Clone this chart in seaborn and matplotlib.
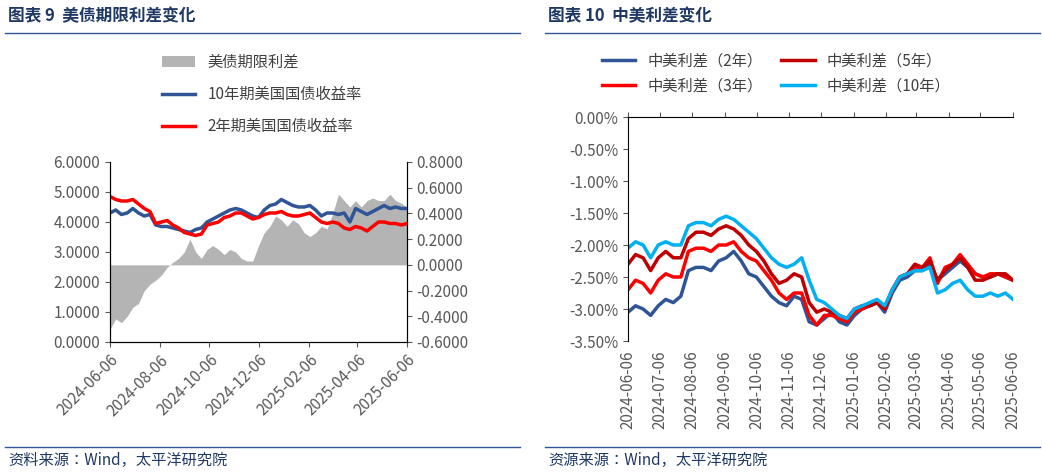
import numpy as np
import pandas as pd
import matplotlib
matplotlib.use("Agg")
import matplotlib.pyplot as plt
from matplotlib.ticker import FuncFormatter
import seaborn as sns

plt.rcParams["font.family"] = ["Noto Sans CJK SC", "Noto Sans CJK JP", "Noto Sans CJK TC",
                               "Noto Sans CJK KR", "DejaVu Sans"]
plt.rcParams["axes.unicode_minus"] = False

start, end = "2024-06-06", "2025-06-06"

# 图表9 (weekly samples)
us10y = [4.3, 4.4, 4.25, 4.3, 4.45, 4.3, 4.2, 4.25, 3.9, 3.85, 3.85, 3.8, 3.75, 3.7, 3.65, 3.75, 3.8,
         4.0, 4.1, 4.2, 4.3, 4.4, 4.45, 4.4, 4.3, 4.2, 4.15, 4.4, 4.55, 4.6, 4.75, 4.65, 4.55, 4.5,
         4.5, 4.55, 4.4, 4.2, 4.3, 4.3, 4.25, 4.3, 4.0, 4.45, 4.35, 4.25, 4.35, 4.45, 4.55, 4.45,
         4.5, 4.45, 4.45]
us2y = [4.85, 4.75, 4.7, 4.7, 4.75, 4.6, 4.45, 4.35, 3.95, 4.0, 4.05, 3.9, 3.8, 3.65, 3.6, 3.55, 3.6,
        3.9, 3.95, 4.0, 4.15, 4.2, 4.3, 4.3, 4.2, 4.1, 4.15, 4.25, 4.3, 4.3, 4.35, 4.25, 4.2, 4.2,
        4.25, 4.3, 4.15, 4.0, 3.95, 4.0, 3.95, 3.8, 3.75, 3.85, 3.8, 3.7, 3.85, 4.0, 4.0, 3.95,
        3.95, 3.9, 3.95]
spread = [-0.5, -0.42, -0.45, -0.4, -0.33, -0.3, -0.2, -0.15, -0.12, -0.08, -0.02, 0.02, 0.05, 0.1,
          0.2, 0.1, 0.05, 0.12, 0.15, 0.12, 0.08, 0.12, 0.1, 0.05, 0.03, 0.03, 0.15, 0.25, 0.3,
          0.38, 0.35, 0.3, 0.35, 0.32, 0.25, 0.22, 0.25, 0.3, 0.28, 0.4, 0.55, 0.5, 0.45, 0.5,
          0.45, 0.5, 0.52, 0.5, 0.5, 0.55, 0.5, 0.48, 0.45]

# 图表10 (%)
cn_us_2y = [-3.05, -2.95, -3.0, -3.1, -2.95, -2.85, -2.9, -2.8, -2.4, -2.35, -2.35, -2.4, -2.25, -2.2,
            -2.1, -2.25, -2.45, -2.5, -2.65, -2.8, -2.9, -2.95, -2.8, -2.85, -3.2, -3.25, -3.15,
            -3.05, -3.2, -3.25, -3.1, -3.0, -2.95, -2.9, -3.05, -2.75, -2.55, -2.5, -2.4, -2.4,
            -2.3, -2.55, -2.45, -2.35, -2.25, -2.35, -2.45, -2.5, -2.5, -2.45, -2.5, -2.55]
cn_us_3y = [-2.7, -2.55, -2.6, -2.75, -2.55, -2.45, -2.5, -2.5, -2.1, -2.05, -2.05, -2.1, -2.0, -2.0,
            -1.95, -2.1, -2.2, -2.25, -2.4, -2.55, -2.75, -2.85, -2.75, -2.75, -3.1, -3.25, -3.1,
            -3.1, -3.15, -3.2, -3.05, -3.0, -2.95, -2.9, -3.0, -2.7, -2.5, -2.45, -2.35, -2.35,
            -2.2, -2.6, -2.35, -2.3, -2.15, -2.3, -2.45, -2.5, -2.45, -2.45, -2.5, -2.55]
cn_us_5y = [-2.3, -2.15, -2.2, -2.4, -2.2, -2.1, -2.2, -2.2, -1.9, -1.8, -1.8, -1.85, -1.75, -1.7,
            -1.75, -1.85, -2.0, -2.1, -2.25, -2.45, -2.6, -2.55, -2.45, -2.5, -2.9, -3.05, -3.0,
            -3.05, -3.1, -3.15, -3.0, -2.95, -2.95, -2.9, -3.0, -2.7, -2.5, -2.45, -2.3, -2.35,
            -2.25, -2.55, -2.4, -2.3, -2.2, -2.35, -2.55, -2.55, -2.5, -2.45, -2.45, -2.55]
cn_us_10y = [-2.05, -1.95, -2.0, -2.2, -2.0, -1.95, -2.0, -2.0, -1.7, -1.65, -1.65, -1.7, -1.6, -1.55,
             -1.6, -1.7, -1.8, -1.9, -2.05, -2.2, -2.3, -2.35, -2.3, -2.2, -2.55, -2.85, -2.9,
             -3.0, -3.1, -3.15, -3.0, -2.95, -2.9, -2.85, -2.95, -2.7, -2.5, -2.45, -2.4, -2.4,
             -2.35, -2.75, -2.7, -2.6, -2.55, -2.7, -2.8, -2.8, -2.75, -2.8, -2.75, -2.85]

left_ticks = ["2024-06-06", "2024-08-06", "2024-10-06", "2024-12-06", "2025-02-06", "2025-04-06", "2025-06-06"]
right_ticks = [f"2024-{m:02d}-06" for m in range(6, 13)] + [f"2025-{m:02d}-06" for m in range(1, 7)]


def dates_for(vals):
    t = np.linspace(pd.Timestamp(start).value, pd.Timestamp(end).value, len(vals))
    return pd.to_datetime(t)


BLUE, RED, DRED, CYAN, GRAY = "#2F5597", "#FF0000", "#C00000", "#00B0F0", "#B4B4B4"
TXT = "#595959"

fig = plt.figure(figsize=(10.42, 4.75), dpi=100)

# ---- left panel
ax1 = fig.add_axes([110 / 1042, 133 / 475, 297 / 1042, 180 / 475])
ax1b = ax1.twinx()
d = dates_for(spread)
ax1b.fill_between(d, 0, spread, color=GRAY, lw=0, label="美债期限利差")
ax1b.set_ylim(-0.6, 0.8)
ax1b.set_yticks(np.arange(-0.6, 0.81, 0.2))
ax1b.yaxis.set_major_formatter(FuncFormatter(lambda v, p: f"{v:.4f}"))
sns.lineplot(x=dates_for(us10y), y=us10y, ax=ax1, color=BLUE, lw=2.5, label="10年期美国国债收益率")
sns.lineplot(x=dates_for(us2y), y=us2y, ax=ax1, color=RED, lw=2.5, label="2年期美国国债收益率")
ax1.set_zorder(ax1b.get_zorder() + 1)
ax1.patch.set_visible(False)
ax1.set_ylim(0, 6)
ax1.set_yticks(np.arange(0, 6.1, 1))
ax1.yaxis.set_major_formatter(FuncFormatter(lambda v, p: f"{v:.4f}"))
ax1.set_xlim(pd.Timestamp(start), pd.Timestamp(end))
ax1.set_xticks(pd.to_datetime(left_ticks))
ax1.set_xticklabels(left_ticks, rotation=45, ha="right", rotation_mode="anchor")
ax1.set_xlabel("")
h1, l1 = ax1b.get_legend_handles_labels()
h2, l2 = ax1.get_legend_handles_labels()
ax1.get_legend().remove()
fig.legend(h1 + h2, l1 + l2, loc="upper left", bbox_to_anchor=(148 / 1042, 1 - 40 / 475),
           frameon=False, fontsize=11, labelspacing=1.0, handlelength=2.2, labelcolor="#404040")
for a in (ax1, ax1b):
    a.spines["top"].set_visible(False)
    a.tick_params(colors=TXT, labelsize=11, direction="out")

# ---- right panel
ax2 = fig.add_axes([628 / 1042, 134 / 475, 385 / 1042, 224 / 475])
for vals, c, lab in [(cn_us_2y, BLUE, "中美利差（2年）"), (cn_us_3y, RED, "中美利差（3年）"),
                     (cn_us_5y, DRED, "中美利差（5年）"), (cn_us_10y, CYAN, "中美利差（10年）")]:
    sns.lineplot(x=dates_for(vals), y=vals, ax=ax2, color=c, lw=2.5, label=lab)
ax2.set_ylim(-3.5, 0)
ax2.set_yticks(np.arange(-3.5, 0.01, 0.5))
ax2.yaxis.set_major_formatter(FuncFormatter(lambda v, p: f"{v:.2f}%"))
ax2.set_xlim(pd.Timestamp(start), pd.Timestamp(end))
ax2.set_xticks(pd.to_datetime(right_ticks))
ax2.set_xticklabels(right_ticks, rotation=90)
ax2.set_xlabel("")
ax2.tick_params(axis="x", labeltop=False, labelbottom=True, top=True, bottom=False)
ax2.spines["right"].set_visible(False)
ax2.spines["bottom"].set_visible(False)
ax2.tick_params(colors=TXT, labelsize=11)
ax2.legend(loc="lower left", bbox_to_anchor=(588 / 1042, 1 - 108 / 475), bbox_transform=fig.transFigure,
           ncol=2, frameon=False, fontsize=11, columnspacing=1.2, handlelength=2.2, labelcolor="#404040")

# ---- titles and footers
TITLE = "#1F3864"
fig.text(8 / 1042, 1 - 16 / 475, "图表 9  美债期限利差变化", fontsize=12, fontweight="bold", color=TITLE, va="center")
fig.text(548 / 1042, 1 - 16 / 475, "图表 10  中美利差变化", fontsize=12, fontweight="bold", color=TITLE, va="center")
fig.text(8 / 1042, 1 - 460 / 475, "资料来源：Wind，太平洋研究院", fontsize=11, color=TITLE, va="center")
fig.text(548 / 1042, 1 - 460 / 475, "资源来源：Wind，太平洋研究院", fontsize=11, color=TITLE, va="center")
for x0, x1 in [(5, 520), (545, 1040)]:
    for yy in (33, 447):
        fig.add_artist(plt.Line2D([x0 / 1042, x1 / 1042], [1 - yy / 475] * 2, color="#2F5597", lw=1))

fig.savefig("out.png", dpi=100)
